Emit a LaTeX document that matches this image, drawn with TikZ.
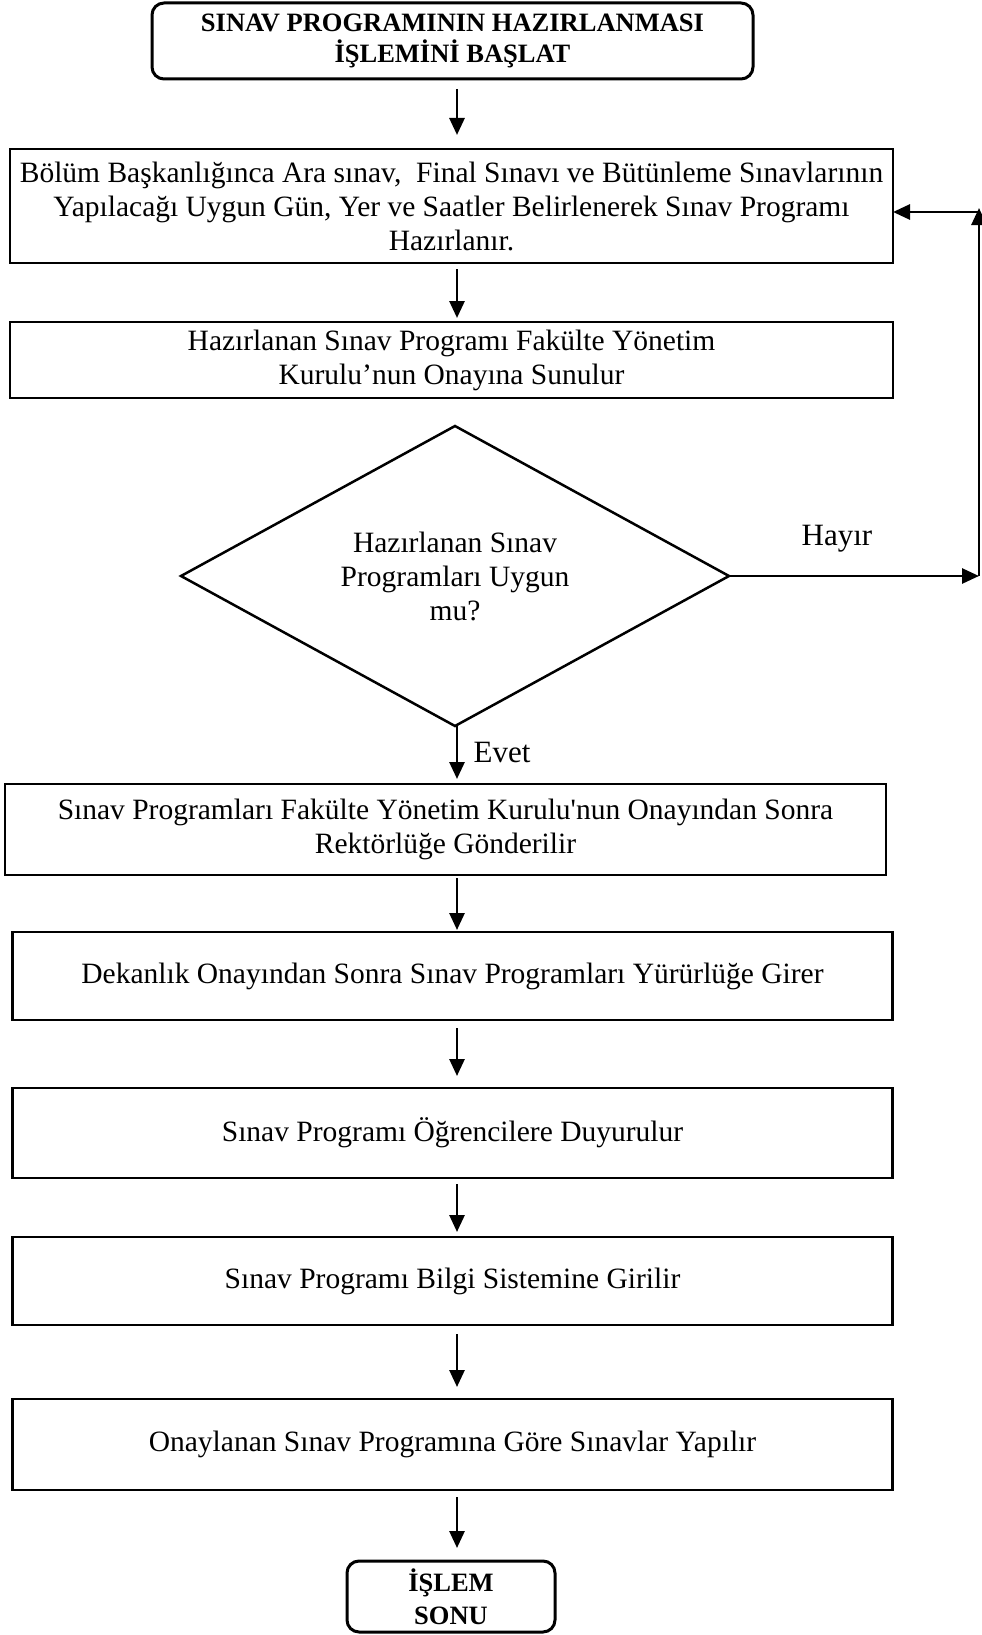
\documentclass[tikz,border=0pt]{standalone}
\usepackage{fontspec}
\setmainfont{Liberation Serif}
% same face without the TeX quote mapping, for a straight apostrophe
\newfontfamily\rawserif{Liberation Serif}
\newcommand{\sq}{{\rawserif '}}
\usetikzlibrary{shapes.geometric,arrows.meta}
\begin{document}
\begin{tikzpicture}[x=1pt,y=-1pt,
  every node/.style={inner sep=0pt, outer sep=0pt},
  body/.style={font=\fontsize{29.5}{34}\selectfont, align=center},
  proc/.style={body, draw, line width=2.5pt, rectangle},
  term/.style={draw, line width=3pt, rounded corners=12pt, align=center,
    font=\fontsize{26.5}{31}\selectfont\bfseries},
  decision/.style={body, draw, line width=2.5pt, diamond, aspect=1.83},
  arr/.style={line width=2.8pt, -{Triangle[length=17pt,width=15pt]}},
  lbl/.style={font=\fontsize{31}{36}\selectfont}]
\useasboundingbox (0,0) rectangle (982,1635);

% process steps
\node[term, minimum width=601pt, minimum height=76pt] (start) at (452.5,41)
  {SINAV PROGRAMININ HAZIRLANMASI\\İŞLEMİNİ BAŞLAT};
\node[proc, minimum width=883pt, minimum height=114pt] (b1) at (451.5,206)
  {Bölüm Başkanlığınca Ara sınav,\ \ Final Sınavı ve Bütünleme Sınavlarının\\
   Yapılacağı Uygun Gün, Yer ve Saatler Belirlenerek Sınav Programı\\
   Hazırlanır.};
\node[proc, minimum width=883pt, minimum height=76pt] (b2) at (451.5,360)
  {Hazırlanan Sınav Programı Fakülte Yönetim\\Kurulu’nun Onayına Sunulur};
\node[decision, minimum width=548pt, minimum height=300pt] (dec) at (455,576)
  {Hazırlanan Sınav\\Programları Uygun\\mu?};
\node[proc, minimum width=881pt, minimum height=91pt] (b3) at (445.5,829.5)
  {Sınav Programları Fakülte Yönetim Kurulu\sq nun Onayından Sonra\\Rektörlüğe Gönderilir};
\node[proc, minimum width=880pt, minimum height=88pt] (b4) at (452.5,976)
  {Dekanlık Onayından Sonra Sınav Programları Yürürlüğe Girer};
\node[proc, minimum width=880pt, minimum height=90pt] (b5) at (452.5,1133)
  {Sınav Programı Öğrencilere Duyurulur};
\node[proc, minimum width=880pt, minimum height=88pt] (b6) at (452.5,1281)
  {Sınav Programı Bilgi Sistemine Girilir};
\node[proc, minimum width=880pt, minimum height=91pt] (b7) at (452.5,1444.5)
  {Onaylanan Sınav Programına Göre Sınavlar Yapılır};
\node[term, minimum width=208pt, minimum height=71pt, font=\fontsize{26.5}{33}\selectfont\bfseries]
  (end) at (451,1596.5) {İŞLEM\\SONU};

% branch labels
\node[lbl] (no) at (837,539) {Hayır};
\node[lbl] (yes) at (502,752) {Evet};

% main flow
\coordinate (ax) at (457,0);
\draw[arr, shorten <=10pt, shorten >=14pt] (start.south -| ax) -- (b1.north -| ax);
\draw[arr, shorten <=6pt, shorten >=4pt] (b1.south -| ax) -- (b2.north -| ax);
\draw[arr, shorten >=5pt] (dec.south -| ax) -- (b3.north -| ax);
\draw[arr, shorten <=3pt, shorten >=2pt] (b3.south -| ax) -- (b4.north -| ax);
\draw[arr, shorten <=8pt, shorten >=12pt] (b4.south -| ax) -- (b5.north -| ax);
\draw[arr, shorten <=6pt, shorten >=5pt] (b5.south -| ax) -- (b6.north -| ax);
\draw[arr, shorten <=9pt, shorten >=12pt] (b6.south -| ax) -- (b7.north -| ax);
\draw[arr, shorten <=7pt, shorten >=13pt] (b7.south -| ax) -- (end.north -| ax);

% return loop
\coordinate (r1) at (979,576);
\coordinate (r2) at (979,208);
\coordinate (r3) at (979,212);
\draw[arr] (dec.east) -- (r1);
\draw[arr] (r1) -- (r2);
\draw[arr] (r3) -- (b1.east |- r3);
\end{tikzpicture}
\end{document}
